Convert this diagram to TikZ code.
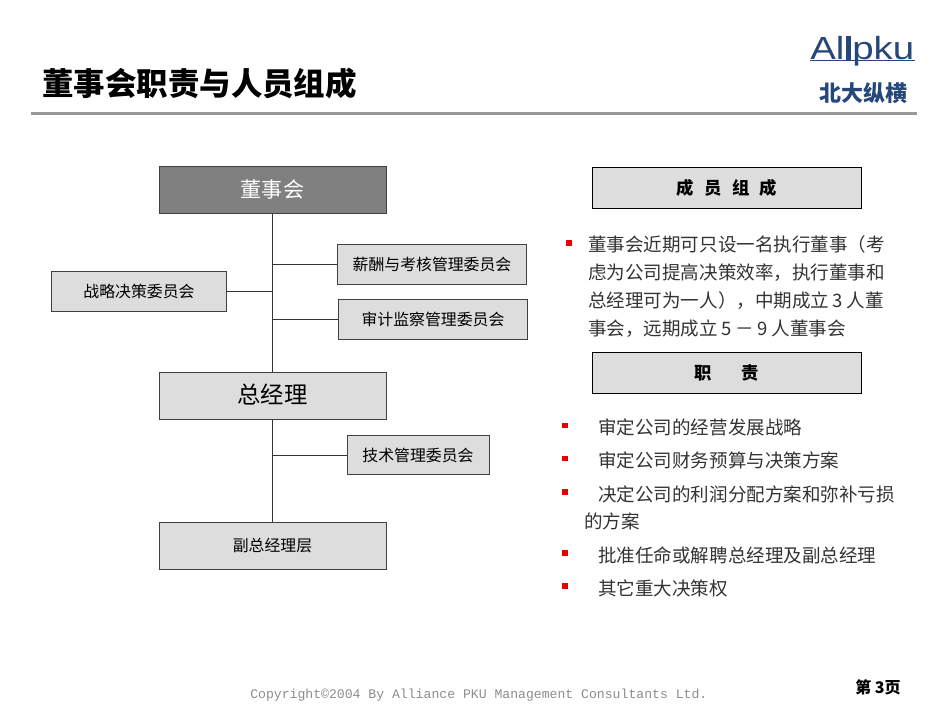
\documentclass[tikz,border=0pt]{standalone}
\usepackage{xcolor}
\usepackage{graphicx}
\usepackage{fontspec}
\setmainfont{Noto Sans CJK SC}
\setmonofont{Liberation Mono}
\newfontfamily\logofont{Liberation Sans}
\usepackage{tikz}
\usetikzlibrary{calc, positioning}
\definecolor{boxgray}{HTML}{DDDDDD}
\definecolor{headgray}{HTML}{808080}
\definecolor{logoblue}{HTML}{26477A}
\newcommand{\zh}[1]{\fontsize{#1}{#1}\selectfont}
\newcommand{\gapz}{\hspace{0.2em}}
\tikzstyle{link} = [draw=black!80, line width=0.7pt]

\begin{document}
\begin{tikzpicture}[
    x=0.75pt, y=-0.75pt,
    orgbox/.style={draw=black!75, line width=0.7pt, fill=boxgray, inner sep=0pt, minimum height=#1*0.75pt},
    orgbox/.default=39,
    headbox/.style={draw=black, line width=0.8pt, fill=boxgray, inner sep=0pt,
      minimum width=269*0.75pt, minimum height=41*0.75pt, font=\zh{13}\bfseries},
    bodytext/.style={anchor=north west, inner sep=0pt, align=left, text width=#1*0.75pt,
      font=\fontsize{13.9}{21}\selectfont, text=black!80},
    bullet/.style={fill=red!90!black, minimum size=4pt, inner sep=0pt},
  ]
  \useasboundingbox (0,0) rectangle (950,713);
  % title
  \node (title) [anchor=west, inner sep=0pt, font=\zh{23.6}\bfseries] at (42,84) {董事会职责与人员组成};
  \draw [line width=1.6pt, black!40] (31,113.5) coordinate (ruleL) -- (917,113.5) coordinate (ruleR);
  % logo
  \node (logoA) [anchor=base west, inner sep=0pt, text=logoblue, font=\logofont\fontsize{24}{24}\selectfont] at (810,60) {\scalebox{1.2}[1]{Al}};
  \node (logoB) [anchor=base west, inner sep=0pt, text=logoblue, font=\logofont\fontsize{24}{24}\selectfont] at (852,60) {\scalebox{1.2}[1]{pku}};
  \fill [logoblue] (846,36) rectangle (851,60);
  \draw [logoblue, line width=0.7pt] (810,60.5) -- (915,60.5);
  \node (logoCn) [inner sep=0pt, text=logoblue, font=\zh{16.5}\bfseries] at (863,93) {北大纵横};
  % left chart
  \node (board) [orgbox=47, minimum width=227*0.75pt, fill=headgray, text=white, font=\zh{15.8}] at (272.5,190) {\raisebox{1.5pt}{董事会}};
  \node (pay) [orgbox=40, minimum width=189*0.75pt, font=\zh{11.9}] at (432,264) {薪酬与考核管理委员会};
  \node (strategy) [orgbox=40, minimum width=175*0.75pt, font=\zh{11.9}] at (139,291.5) {战略决策委员会};
  \node (audit) [orgbox=40, minimum width=189*0.75pt, font=\zh{11.9}] at (433,319) {审计监察管理委员会};
  \node (gm) [orgbox=47, minimum width=227*0.75pt, font=\zh{17.5}] at (272.5,396) {\raisebox{3pt}{总经理}};
  \node (tech) [orgbox=39, minimum width=142*0.75pt, font=\zh{11.9}] at (418,455) {技术管理委员会};
  \node (vice) [orgbox=47, minimum width=227*0.75pt, font=\zh{11.9}] at (272.5,546) {副总经理层};
  \draw [link] (board) -- (gm);
  \draw [link] (gm) -- (vice);
  \draw [link] (pay.west) -- (pay.west -| board.south);
  \draw [link] (strategy.east) -- (strategy.east -| board.south);
  \draw [link] (audit.west) -- (audit.west -| board.south);
  \draw [link] (tech.west) -- (tech.west -| gm.south);
  % right column
  \node (members) [headbox] at (727,188) {\raisebox{-0.7pt}{成\hspace{0.6em}员\hspace{0.6em}组\hspace{0.6em}成}};
  \node (duties) [headbox] at (727,373) {职\hspace{1.7em}责};
  \node (b0) [bullet] at (569,243) {};
  \node (memberText) [bodytext=330] at (588,235.5) {董事会近期可只设一名执行董事（考\\虑为公司提高决策效率，执行董事和\\总经理可为一人），中期成立\gapz 3\gapz 人董\\事会，远期成立\gapz 5\gapz －\gapz 9\gapz 人董事会};
  \node (b1) [bullet] at (565,425.5) {};
  \node (d1) [bodytext=300, anchor=west] at (598,427) {审定公司的经营发展战略};
  \node (b2) [bullet] at (565,458.5) {};
  \node (d2) [bodytext=300, anchor=west] at (598,460) {审定公司财务预算与决策方案};
  \node (b3) [bullet] at (565,492) {};
  \node (d3) [bodytext=300, anchor=west] at (598,494) {决定公司的利润分配方案和弥补亏损};
  \node (d3b) [bodytext=100, anchor=west] at (584,521) {的方案};
  \node (b4) [bullet] at (565,553) {};
  \node (d4) [bodytext=300, anchor=west] at (598,555) {批准任命或解聘总经理及副总经理};
  \node (b5) [bullet] at (565,586) {};
  \node (d5) [bodytext=300, anchor=west] at (598,588) {其它重大决策权};
  % footer
  \node (copy) [anchor=west, inner sep=0pt, text=black!45, font=\ttfamily\fontsize{9.85}{12}\selectfont] at (250,695) {Copyright©2004 By Alliance PKU Management Consultants Ltd.};
  \node (page) [anchor=east, inner sep=0pt, font=\zh{12}\bfseries] at (901,687) {第 3页};
\end{tikzpicture}
\end{document}
